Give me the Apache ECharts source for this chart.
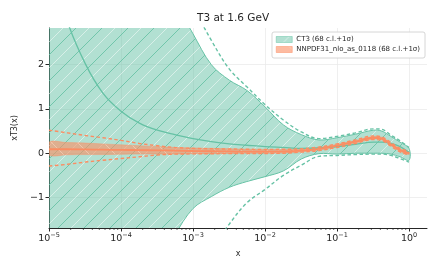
<!DOCTYPE html>
<html><head><meta charset="utf-8">
<script src="https://cdn.jsdelivr.net/npm/echarts@6/dist/echarts.min.js"></script>
<style>html,body{margin:0;padding:0;background:#fff}#c{width:443px;height:272px}</style>
</head><body><div id="c"></div>
<script>
// x grid (log spaced sample points)
const xs = [1e-5, 1.8e-5, 3.2e-5, 5.6e-5, 1e-4, 1.8e-4, 3.2e-4, 5.6e-4, 1e-3, 1.8e-3, 3.2e-3, 5.6e-3, 1e-2, 1.8e-2, 3.2e-2, 5.6e-2, 0.1, 0.18, 0.32, 0.42, 0.56, 0.75, 1.0];
// CT3
const ct3Central     = [4.5, 2.98, 2.02, 1.36, 0.95, 0.68, 0.52, 0.42, 0.33, 0.26, 0.21, 0.18, 0.15, 0.13, 0.11, 0.12, 0.15, 0.2, 0.25, 0.25, 0.22, 0.15, 0.02];
const ct3Upper       = [14, 12, 10, 8.5, 7, 5.6, 4.4, 3.45, 2.7, 2.0, 1.65, 1.42, 1.05, 0.64, 0.42, 0.30, 0.35, 0.43, 0.52, 0.50, 0.38, 0.25, 0.11];
const ct3Lower       = [-12, -10, -8.5, -7, -5.6, -3.6, -2.7, -1.86, -1.25, -0.98, -0.77, -0.64, -0.53, -0.40, -0.13, -0.01, -0.02, 0.0, 0.0, 0.0, -0.02, -0.08, -0.16];
const ct3UpperDashed = [25, 20, 16, 13, 10, 8, 6, 4.5, 3.35, 2.55, 1.9, 1.5, 1.1, 0.75, 0.48, 0.33, 0.38, 0.46, 0.55, 0.54, 0.41, 0.28, 0.13];
const ct3LowerDashed = [-25, -20, -16, -13, -10, -8, -6, -4.5, -3.1, -2.2, -1.6, -1.12, -0.82, -0.50, -0.27, -0.07, -0.05, -0.03, -0.02, -0.02, -0.05, -0.12, -0.2];
// NNPDF31
const nnCentral     = [0.09, 0.09, 0.085, 0.08, 0.075, 0.07, 0.065, 0.06, 0.05, 0.045, 0.04, 0.035, 0.035, 0.04, 0.06, 0.10, 0.17, 0.26, 0.35, 0.33, 0.20, 0.07, 0.0];
const nnUpper       = [0.25, 0.24, 0.23, 0.21, 0.19, 0.17, 0.15, 0.13, 0.12, 0.11, 0.10, 0.09, 0.085, 0.085, 0.095, 0.13, 0.20, 0.29, 0.38, 0.36, 0.23, 0.10, 0.03];
const nnLower       = [-0.04, -0.035, -0.03, -0.03, -0.025, -0.02, -0.02, -0.02, -0.01, -0.01, -0.005, 0.0, 0.0, 0.005, 0.03, 0.07, 0.14, 0.23, 0.32, 0.30, 0.17, 0.04, -0.03];
const nnUpperDashed = [0.52, 0.46, 0.40, 0.35, 0.29, 0.22, 0.17, 0.13, 0.11, 0.10, 0.095, 0.09, 0.085, 0.09, 0.10, 0.14, 0.21, 0.30, 0.39, 0.37, 0.24, 0.11, 0.04];
const nnLowerDashed = [-0.29, -0.25, -0.20, -0.16, -0.12, -0.08, -0.04, -0.02, -0.015, -0.012, -0.008, -0.005, -0.005, 0.0, 0.025, 0.06, 0.13, 0.22, 0.31, 0.29, 0.16, 0.03, -0.04];
// ticks
const xTicks = [1e-5, 1e-4, 1e-3, 1e-2, 1e-1, 1];
const yTicks = [-1, 0, 1, 2];
const xMin = 1e-5, xMax = 1.7783, yMin = -1.69, yMax = 2.83;
const names = ['CT3 (68 c.l.+1σ)', 'NNPDF31_nlo_as_0118 (68 c.l.+1σ)'];

const GREEN = '#66c2a5', ORANGE = '#fc8d62', FONT = 'DejaVu Sans', TXT = '#262626';
const SMOOTH = 0.35;

function hatch(bg, dark, light, s, back) {
  const c = document.createElement('canvas'); c.width = s; c.height = s;
  const g = c.getContext('2d');
  g.fillStyle = bg; g.fillRect(0, 0, s, s);
  function diag(off, col, w) {
    g.strokeStyle = col; g.lineWidth = w;
    for (const o of [-s, 0, s]) {
      g.beginPath();
      if (!back) { g.moveTo(o + off, s); g.lineTo(o + off + s, 0); }
      else { g.moveTo(o + off, 0); g.lineTo(o + off + s, s); }
      g.stroke();
    }
  }
  if (dark) diag(0, dark, 0.9);
  if (light) diag(s / 2, light, 0.9);
  return { image: c, repeat: 'repeat' };
}
const ctPat = hatch('rgba(102,194,165,0.5)', 'rgba(102,194,165,0.95)', 'rgba(255,255,255,0.55)', 26, false);
const nnPat = hatch('rgba(252,141,98,0.6)', null, 'rgba(255,220,200,0.6)', 26, true);

const pairs = arr => xs.map((x, i) => [x, arr[i]]);

function bandSeries(name, upper, lower, fill, stroke, strokeW) {
  return {
    type: 'custom', name: name, silent: true, data: [[xs[0], lower[0]]],
    itemStyle: { color: stroke },
    renderItem: (params, api) => {
      const cs = params.coordSys;
      const top = xs.map((x, i) => api.coord([x, upper[i]]));
      const bot = xs.map((x, i) => api.coord([x, lower[i]])).reverse();
      return {
        type: 'group',
        clipPath: { type: 'rect', shape: { x: cs.x, y: cs.y, width: cs.width, height: cs.height } },
        children: [
          { type: 'polygon', shape: { points: top.concat(bot), smooth: SMOOTH },
            style: { fill: fill, stroke: stroke, lineWidth: strokeW } }
        ]
      };
    }
  };
}

const minorTicks = [];
for (let e = -5; e <= 0; e++) for (let k = 2; k <= 9; k++) { const v = k * Math.pow(10, e); if (v < xMax) minorTicks.push([v, yMin]); }

function supLabel(v) {
  const e = Math.round(Math.log10(v));
  return '{b|10}{s|' + (e < 0 ? '\u2212' + (-e) : e) + '}';
}

const chart = echarts.init(document.getElementById('c'), null, { renderer: 'canvas' });
const lineBase = { type: 'line', symbol: 'none', silent: true, animation: false, smooth: SMOOTH };
chart.setOption({
  animation: false,
  title: { text: 'T3 at 1.6 GeV', left: 197, top: 13, padding: 0,
    textStyle: { fontSize: 10.5, fontWeight: 'normal', fontFamily: FONT, color: TXT } },
  legend: {
    data: [
      { name: names[0], icon: 'rect', itemStyle: { color: ctPat, borderColor: GREEN, borderWidth: 0.5 } },
      { name: names[1], icon: 'rect', itemStyle: { color: nnPat, borderColor: ORANGE, borderWidth: 0.5 } }
    ],
    orient: 'vertical', right: 18, top: 32, padding: [4, 5, 5, 4], itemGap: 3,
    itemWidth: 16, itemHeight: 6, selectedMode: false,
    backgroundColor: 'rgba(255,255,255,0.85)', borderColor: '#cccccc', borderWidth: 0.8, borderRadius: 2,
    textStyle: { fontSize: 7, fontFamily: FONT, color: TXT, padding: [0, 0, 0, -1] }
  },
  grid: { left: 49, right: 16, top: 28, bottom: 44, containLabel: false },
  xAxis: {
    type: 'log', logBase: 10, min: xMin, max: xMax,
    name: 'x', nameLocation: 'middle', nameGap: 22,
    nameTextStyle: { fontSize: 8, fontFamily: FONT, color: TXT },
    axisLine: { show: true, onZero: false, lineStyle: { color: '#262626', width: 1 } },
    axisTick: { show: true, length: 3.5, inside: false, customValues: xTicks, lineStyle: { color: '#262626' } },
    axisLabel: { customValues: xTicks, margin: 4, formatter: supLabel, color: TXT,
      rich: { b: { fontSize: 9.5, fontFamily: FONT, color: TXT }, s: { fontSize: 6.5, fontFamily: FONT, color: TXT, padding: [0, 0, 6, 0] } } },
    splitLine: { show: true, lineStyle: { color: '#ebebeb', width: 0.8 } },
    minorTick: { show: false }
  },
  yAxis: {
    type: 'value', min: yMin, max: yMax,
    name: 'xT3(x)', nameLocation: 'middle', nameGap: 30,
    nameTextStyle: { fontSize: 8, fontFamily: FONT, color: TXT },
    axisLine: { show: true, onZero: false, lineStyle: { color: '#262626', width: 1 } },
    axisTick: { show: true, length: 3.5, customValues: yTicks, lineStyle: { color: '#262626' } },
    axisLabel: { customValues: yTicks, margin: 5, fontSize: 9.5, fontFamily: FONT, color: TXT,
      formatter: v => (v < 0 ? '\u2212' + (-v) : '' + v) },
    splitLine: { show: true, lineStyle: { color: '#ebebeb', width: 0.8 } }
  },
  series: [
    bandSeries(names[0], ct3Upper, ct3Lower, ctPat, GREEN, 1),
    Object.assign({}, lineBase, { name: 'ct3up1s', data: pairs(ct3UpperDashed),
      lineStyle: { color: GREEN, width: 1.4, type: [3.5, 2.5] } }),
    Object.assign({}, lineBase, { name: 'ct3lo1s', data: pairs(ct3LowerDashed),
      lineStyle: { color: GREEN, width: 1.4, type: [3.5, 2.5] } }),
    Object.assign({}, lineBase, { name: 'ct3c', data: pairs(ct3Central),
      lineStyle: { color: GREEN, width: 1.3 } }),
    bandSeries(names[1], nnUpper, nnLower, nnPat, 'rgba(252,141,98,0.7)', 0.6),
    Object.assign({}, lineBase, { name: 'nnup1s', data: pairs(nnUpperDashed),
      lineStyle: { color: ORANGE, width: 1.4, type: [3.5, 2.5] } }),
    Object.assign({}, lineBase, { name: 'nnlo1s', data: pairs(nnLowerDashed),
      lineStyle: { color: ORANGE, width: 1.4, type: [3.5, 2.5] } }),
    Object.assign({}, lineBase, { name: 'nnc', data: pairs(nnCentral),
      lineStyle: { color: ORANGE, width: 1.8 } }),
    { type: 'custom', name: 'minor', silent: true, data: minorTicks, z: 5,
      renderItem: (params, api) => {
        const p = api.coord([api.value(0), api.value(1)]);
        return { type: 'line', shape: { x1: p[0], y1: p[1], x2: p[0], y2: p[1] + 2 },
          style: { stroke: '#262626', lineWidth: 0.7 } };
      } }
  ]
});
</script></body></html>
